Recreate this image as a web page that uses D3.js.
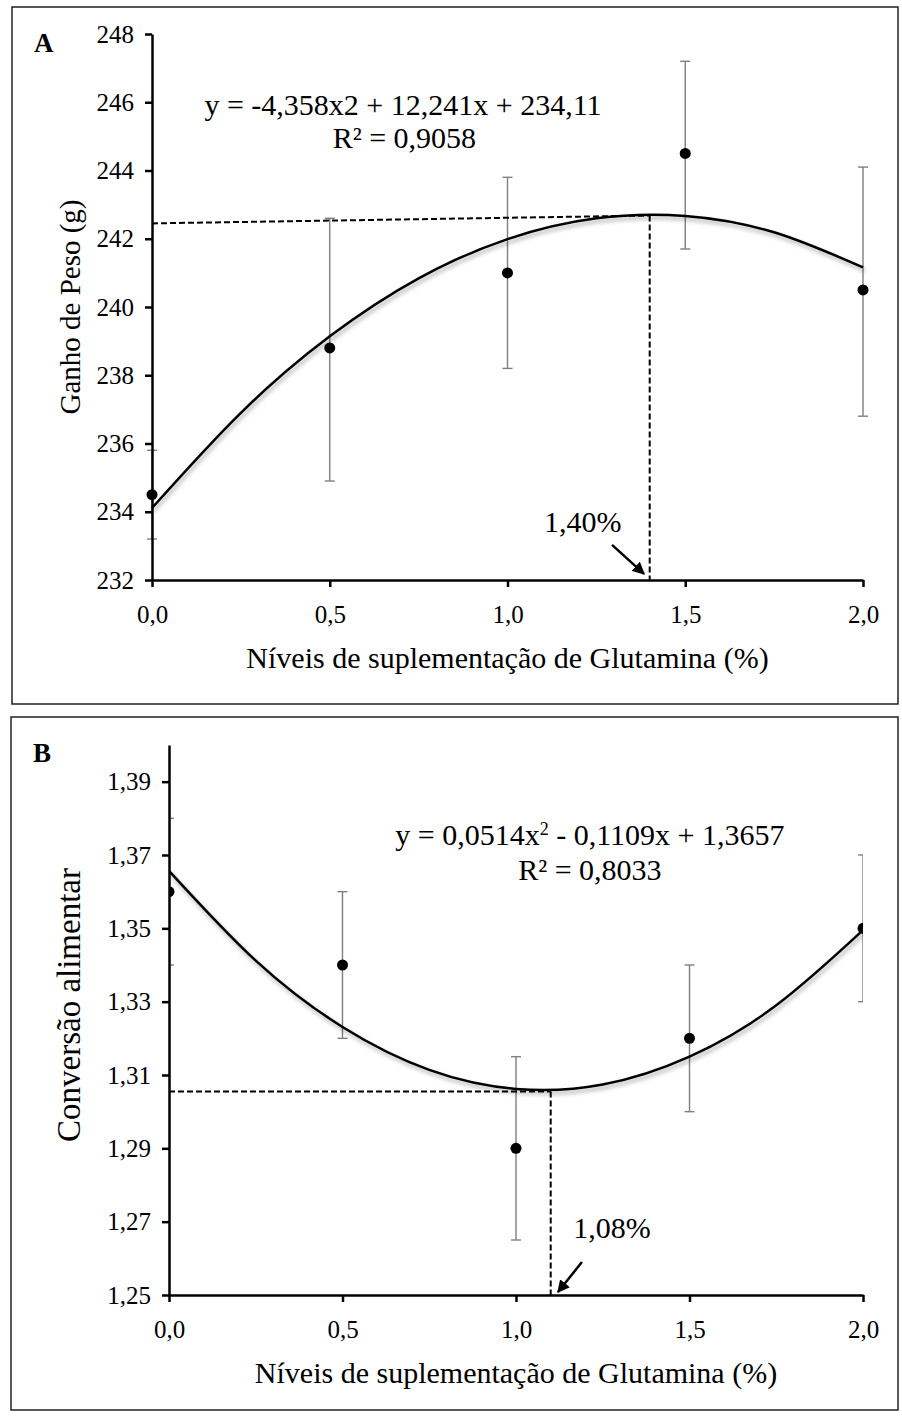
<!DOCTYPE html>
<html>
<head>
<meta charset="utf-8">
<script src="https://cdn.jsdelivr.net/npm/d3@7/dist/d3.min.js"></script>
<style>
  body { margin: 0; background: #fff; }
  text { font-family: "Liberation Serif", "Times New Roman", serif; fill: #000; }
</style>
</head>
<body>
<div id="container"></div>
<script>
// doses of glutamine (%)
const doses = [0, 0.5, 1.0, 1.5, 2.0];
const xTicks = [0, 0.5, 1.0, 1.5, 2.0];

// panel A - weight gain (g)
const ganhoMean = [234.5, 238.8, 241.0, 244.5, 240.5];
const ganhoLow = [233.2, 234.9, 238.2, 241.7, 236.8];
const ganhoHigh = [235.8, 242.6, 243.8, 247.2, 244.1];
const ganhoTicks = [232, 234, 236, 238, 240, 242, 244, 246, 248];
// fitted curve read at steps of 0.25
const curveX = [0, 0.25, 0.5, 0.75, 1.0, 1.25, 1.5, 1.75, 2.0];
const ganhoFit = [234.11, 236.90, 239.14, 240.84, 241.99, 242.60, 242.67, 242.19, 241.16];
const ganhoOpt = { x: 1.40, y0: 242.45, y1: 242.68 };

// panel B - feed conversion
const convMean = [1.36, 1.34, 1.29, 1.32, 1.35];
const convLow = [1.34, 1.32, 1.265, 1.30, 1.33];
const convHigh = [1.38, 1.36, 1.315, 1.34, 1.37];
const convTicks = [1.25, 1.27, 1.29, 1.31, 1.33, 1.35, 1.37, 1.39];
const convFit = [1.3657, 1.3412, 1.3231, 1.3114, 1.3062, 1.3074, 1.3150, 1.3290, 1.3495];
const convOpt = { x: 1.10, y0: 1.3055, y1: 1.3055 };

const W = 902, H = 1416;

const svg = d3.select('#container')
    .append('svg')
    .attr('width', W)
    .attr('height', H);

svg.append('rect').attr('width', W).attr('height', H).attr('fill', '#fff');

const defs = svg.append('defs');
defs.append('filter')
    .attr('id', 'shadow')
    .attr('x', '-10%').attr('y', '-10%').attr('width', '120%').attr('height', '130%')
    .append('feDropShadow')
    .attr('dx', 1.5).attr('dy', 3).attr('stdDeviation', 2)
    .attr('flood-color', '#000').attr('flood-opacity', 0.35);

defs.append('marker')
    .attr('id', 'arrow')
    .attr('viewBox', '0 0 10 10')
    .attr('refX', 9).attr('refY', 5)
    .attr('markerWidth', 5).attr('markerHeight', 5)
    .attr('orient', 'auto')
    .append('path')
    .attr('d', 'M0,0 L10,5 L0,10 z')
    .attr('fill', '#000');

const fmt = (d, n) => d.toFixed(n).replace('.', ',');

const drawPanel = (p) => {
    const g = svg.append('g');

    g.append('rect')
        .attr('x', p.box[0]).attr('y', p.box[1])
        .attr('width', p.box[2]).attr('height', p.box[3])
        .attr('fill', 'none').attr('stroke', '#222').attr('stroke-width', 1.5);

    g.append('text')
        .attr('x', p.box[0] + 22).attr('y', p.box[1] + 45)
        .attr('font-size', 27).attr('font-weight', 'bold')
        .text(p.letter);

    const x = d3.scaleLinear().domain([0, 2]).range(p.xr);
    const y = d3.scaleLinear().domain(p.yd).range(p.yr);

    const clipId = 'clip' + p.letter;
    if (p.clip) {
        defs.append('clipPath').attr('id', clipId)
            .append('rect')
            .attr('x', p.xr[0]).attr('y', p.yr[1] - 10)
            .attr('width', p.xr[1] - p.xr[0]).attr('height', p.yr[0] - p.yr[1] + 20);
    }
    const plot = g.append('g');
    if (p.clip) plot.attr('clip-path', `url(#${clipId})`);

    // error bars
    const eb = plot.append('g').attr('stroke', '#7f7f7f').attr('stroke-width', 1.4);
    doses.forEach((d, i) => {
        eb.append('line')
            .attr('x1', x(d)).attr('x2', x(d))
            .attr('y1', y(p.low[i])).attr('y2', y(p.high[i]));
        [p.low[i], p.high[i]].forEach(v => {
            eb.append('line')
                .attr('x1', x(d) - 5).attr('x2', x(d) + 5)
                .attr('y1', y(v)).attr('y2', y(v));
        });
    });

    // dashed guide lines to the optimum
    const dash = g.append('g')
        .attr('stroke', '#000').attr('stroke-width', 2)
        .attr('stroke-dasharray', '6,3').attr('fill', 'none');
    dash.append('line')
        .attr('x1', x(0)).attr('x2', x(p.opt.x))
        .attr('y1', y(p.opt.y0)).attr('y2', y(p.opt.y1));
    dash.append('line')
        .attr('x1', x(p.opt.x)).attr('x2', x(p.opt.x))
        .attr('y1', y(p.opt.y1)).attr('y2', y(p.yd[0]));

    // fitted curve
    const line = d3.line()
        .x((d, i) => x(curveX[i]))
        .y(d => y(d))
        .curve(d3.curveNatural);
    plot.append('path')
        .datum(p.fit)
        .attr('d', line)
        .attr('fill', 'none')
        .attr('stroke', '#000')
        .attr('stroke-width', 2.5)
        .attr('filter', 'url(#shadow)');

    // means
    plot.append('g')
        .selectAll('circle')
        .data(p.mean)
        .join('circle')
        .attr('cx', (d, i) => x(doses[i]))
        .attr('cy', d => y(d))
        .attr('r', 5.5)
        .attr('fill', '#000');

    // axes
    const yAxis = g.append('g')
        .attr('transform', `translate(${p.xr[0]},0)`)
        .call(d3.axisLeft(y).tickValues(p.yTicks).tickSize(7).tickSizeOuter(0)
            .tickPadding(11).tickFormat(d => fmt(d, p.yDec)));
    const xAxis = g.append('g')
        .attr('transform', `translate(0,${p.yr[0]})`)
        .call(d3.axisBottom(x).tickValues(xTicks).tickSize(7).tickSizeOuter(0)
            .tickPadding(18).tickFormat(d => fmt(d, 1)));
    [yAxis, xAxis].forEach(a => {
        a.select('.domain').attr('stroke', '#000').attr('stroke-width', 2.5);
        a.selectAll('.tick line').attr('stroke', '#000').attr('stroke-width', 2.5);
        a.selectAll('.tick text')
            .attr('font-family', '"Liberation Serif", serif')
            .attr('font-size', 25).attr('fill', '#000');
    });

    g.append('text')
        .attr('transform', `translate(${p.yLabelX},${(p.yr[0] + p.yr[1]) / 2 + p.yLabelShift}) rotate(-90)`)
        .attr('text-anchor', 'middle')
        .attr('font-size', p.yLabelSize)
        .text(p.yLabel);

    g.append('text')
        .attr('x', (p.xr[0] + p.xr[1]) / 2)
        .attr('y', p.yr[0] + 88)
        .attr('text-anchor', 'middle')
        .attr('font-size', 30)
        .text('Níveis de suplementação de Glutamina (%)');

    // equation
    const eq = g.append('text')
        .attr('x', x(p.eqPos[0])).attr('y', y(p.eqPos[1]))
        .attr('text-anchor', 'middle')
        .attr('font-size', 30);
    p.eq.forEach(part => {
        const t = eq.append('tspan').text(part.t);
        if (part.sup) t.attr('baseline-shift', 'super').attr('font-size', 18);
    });
    g.append('text')
        .attr('x', x(p.r2Pos[0])).attr('y', y(p.r2Pos[1]))
        .attr('text-anchor', 'middle')
        .attr('font-size', 30)
        .text(p.r2);

    // optimum annotation
    g.append('text')
        .attr('x', x(p.pctPos[0])).attr('y', y(p.pctPos[1]))
        .attr('text-anchor', 'middle')
        .attr('font-size', 30)
        .text(p.pct);
    g.append('line')
        .attr('x1', x(p.arrow[0])).attr('y1', y(p.arrow[1]))
        .attr('x2', x(p.arrow[2])).attr('y2', y(p.arrow[3]))
        .attr('stroke', '#000').attr('stroke-width', 2.5)
        .attr('marker-end', 'url(#arrow)');
};

drawPanel({
    letter: 'A',
    box: [12, 7, 886, 697],
    xr: [152, 863],
    yd: [232, 248],
    yr: [580, 34],
    yTicks: ganhoTicks,
    yDec: 0,
    mean: ganhoMean, low: ganhoLow, high: ganhoHigh,
    fit: ganhoFit,
    opt: ganhoOpt,
    clip: false,
    yLabel: 'Ganho de Peso (g)',
    yLabelX: 80, yLabelShift: 0, yLabelSize: 29,
    eq: [{ t: 'y = -4,358x2 + 12,241x + 234,11' }],
    eqPos: [0.706, 245.63],
    r2: 'R² = 0,9058',
    r2Pos: [0.71, 244.66],
    pct: '1,40%',
    pctPos: [1.212, 233.4],
    arrow: [1.294, 233.03, 1.384, 232.18]
});

drawPanel({
    letter: 'B',
    box: [11, 717, 887, 693],
    xr: [169, 863],
    yd: [1.25, 1.40],
    yr: [1295, 745],
    yTicks: convTicks,
    yDec: 2,
    mean: convMean, low: convLow, high: convHigh,
    fit: convFit,
    opt: convOpt,
    clip: true,
    yLabel: 'Conversão alimentar',
    yLabelX: 80, yLabelShift: -15, yLabelSize: 33,
    eq: [{ t: 'y = 0,0514x' }, { t: '2', sup: true }, { t: ' - 0,1109x + 1,3657' }],
    eqPos: [1.213, 1.3728],
    r2: 'R² = 0,8033',
    r2Pos: [1.213, 1.3632],
    pct: '1,08%',
    pctPos: [1.277, 1.2656],
    arrow: [1.19, 1.259, 1.121, 1.2508]
});
</script>
</body>
</html>
